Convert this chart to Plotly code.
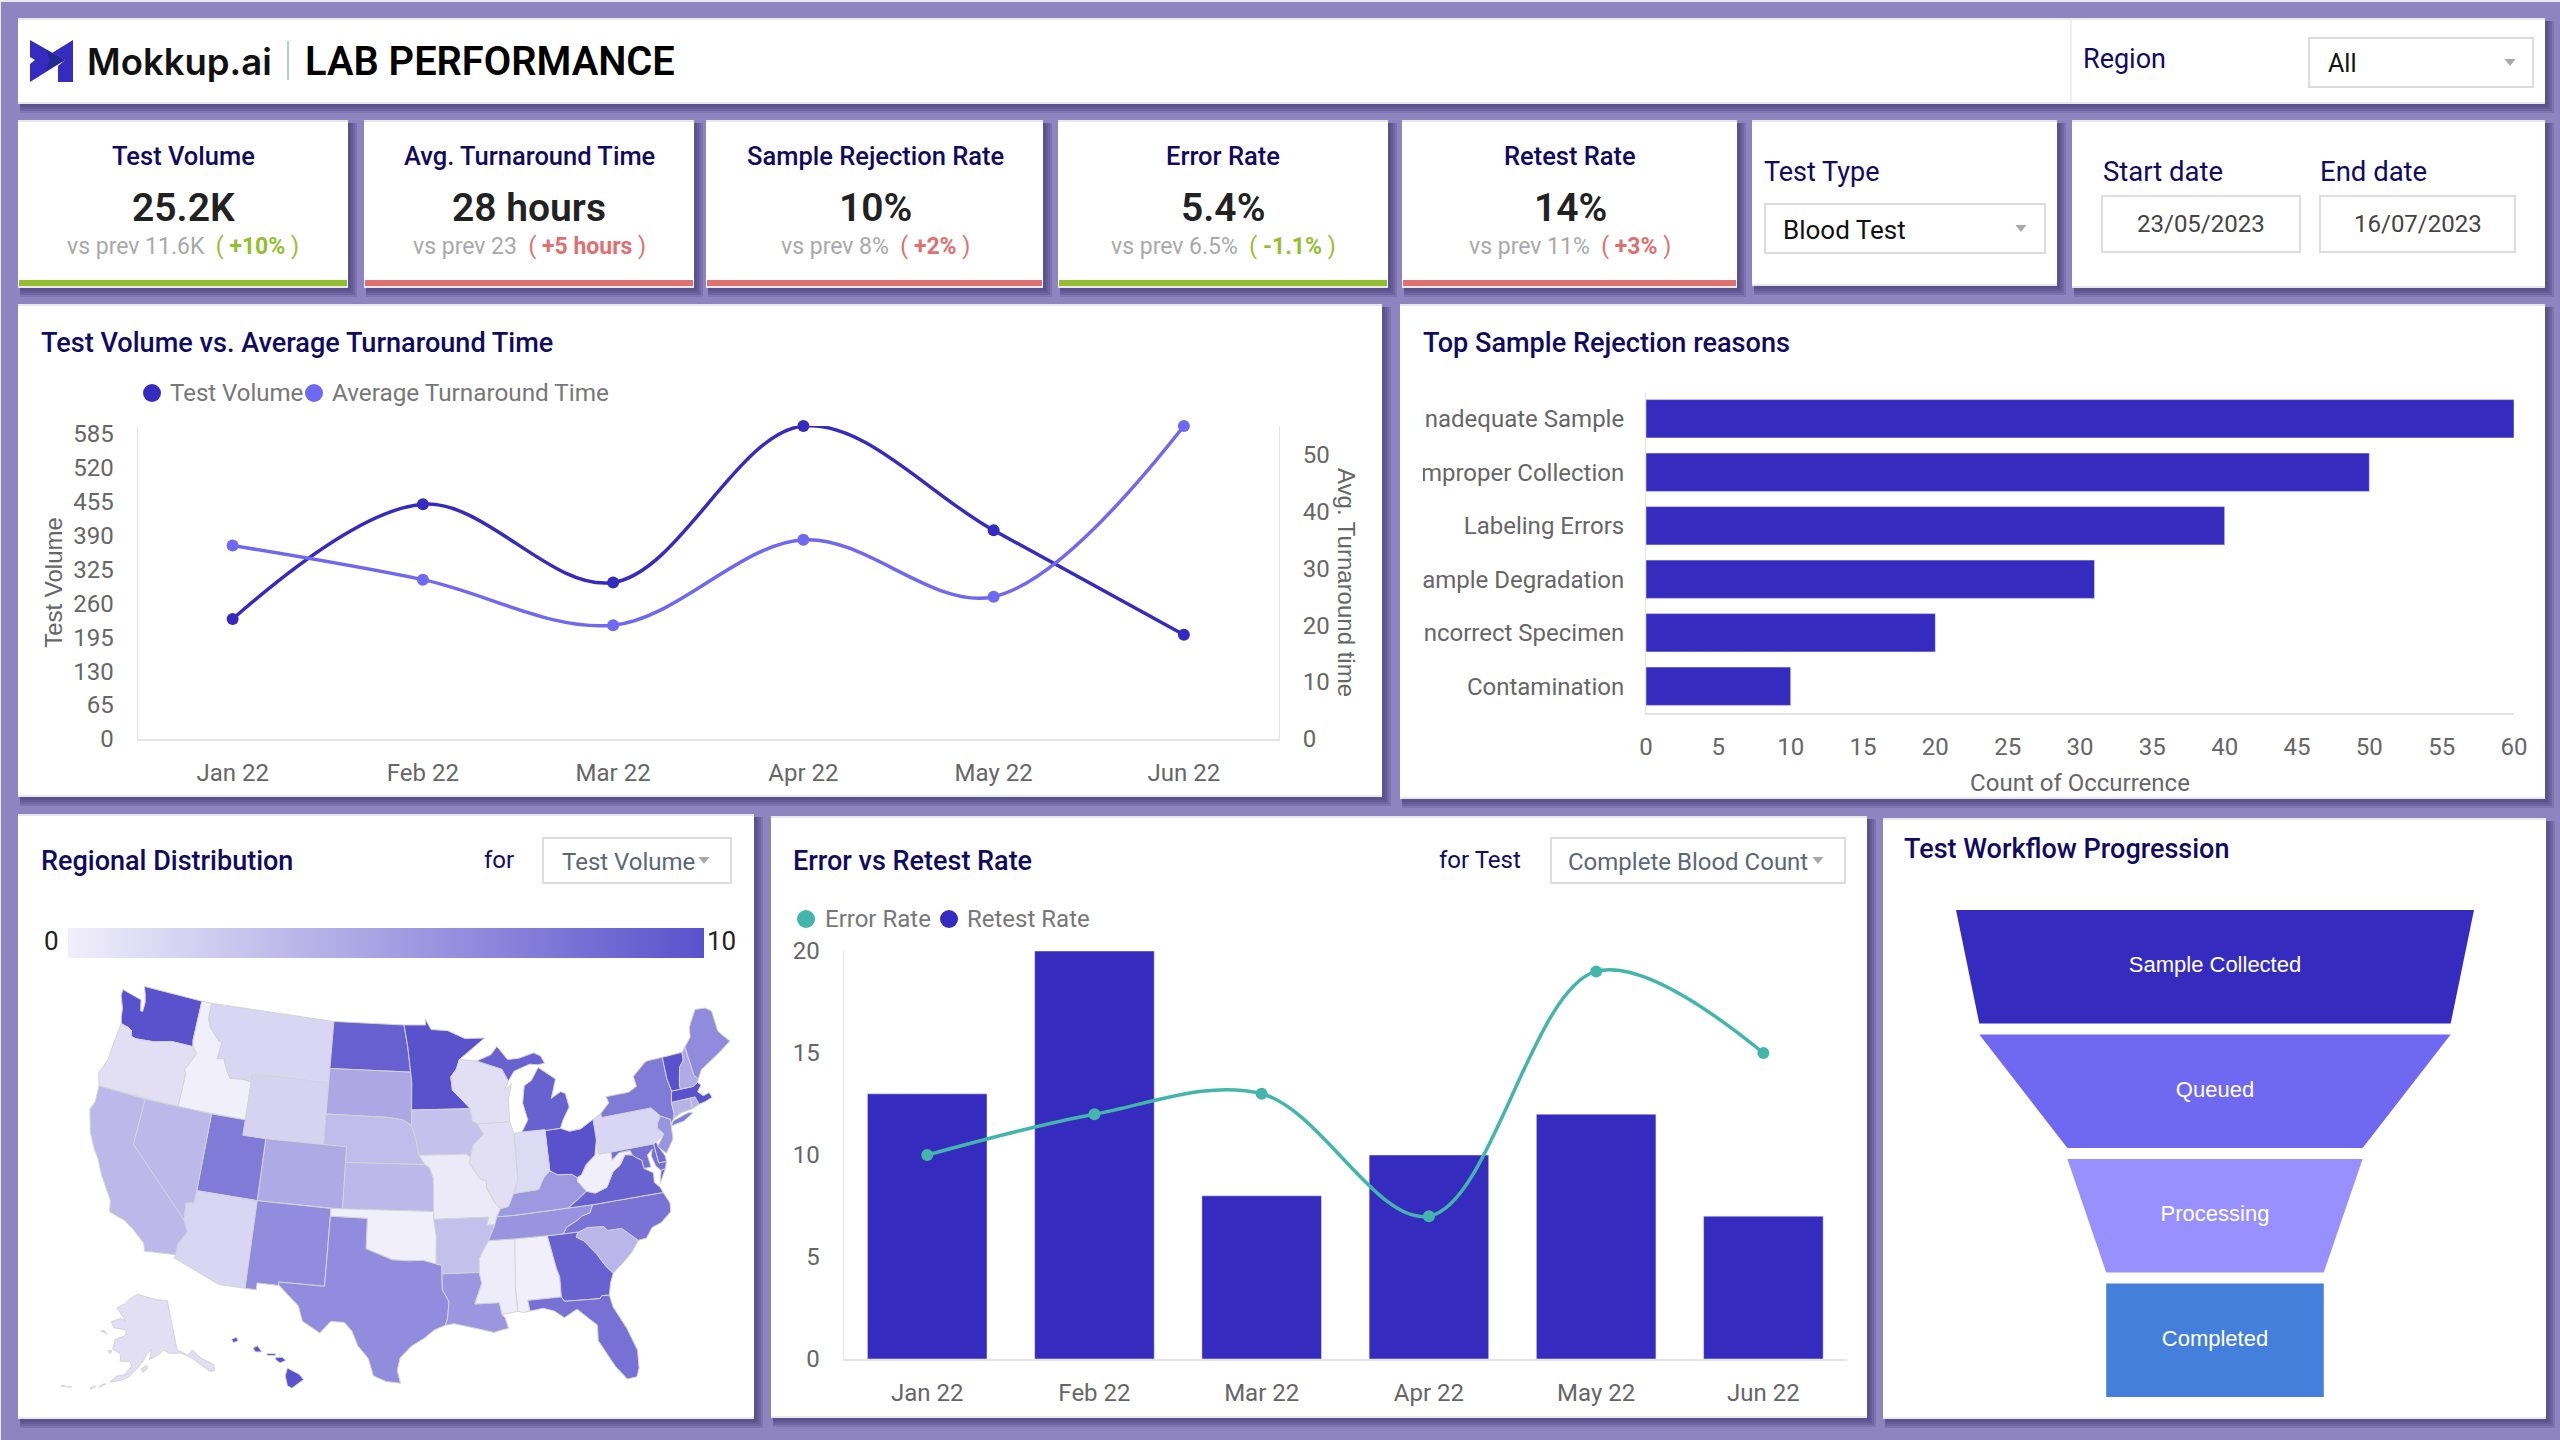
import math
import plotly.graph_objects as go

W, H = 2560, 1440

# ---------- data ----------
MONTHS = ["Jan 22", "Feb 22", "Mar 22", "Apr 22", "May 22", "Jun 22"]
TEST_VOLUME = [230, 450, 300, 600, 400, 200]
AVG_TURNAROUND = [34, 28, 20, 35, 25, 55]
VOLUME_TICKS = [0, 65, 130, 195, 260, 325, 390, 455, 520, 585]
TURNAROUND_TICKS = [0, 10, 20, 30, 40, 50]

REJECT_REASONS = ["Inadequate Sample", "Improper Collection", "Labeling Errors",
                  "Sample Degradation", "Incorrect Specimen", "Contamination"]
REJECT_COUNTS = [60, 50, 40, 31, 20, 10]
COUNT_TICKS = list(range(0, 61, 5))

ERROR_RATE = [10, 12, 13, 7, 19, 15]
RETEST_RATE = [13, 20, 8, 10, 12, 7]
RATE_TICKS = [0, 5, 10, 15, 20]

FUNNEL_STAGES = ["Sample Collected", "Queued", "Processing", "Completed"]
FUNNEL_VALUES = [100, 91, 57, 42]
FUNNEL_COLORS = ["#352cbf", "#6f68f0", "#9990ff", "#437fdb"]

KPI_NAMES = ["Test Volume", "Avg. Turnaround Time", "Sample Rejection Rate", "Error Rate", "Retest Rate"]
KPI_VALUES = ["25.2K", "28 hours", "10%", "5.4%", "14%"]
KPI_PREV = ["vs prev 11.6K", "vs prev 23", "vs prev 8%", "vs prev 6.5%", "vs prev 11%"]
KPI_DELTA = ["+10%", "+5 hours", "+2%", "-1.1%", "+3%"]
KPI_GOOD = [True, False, False, True, False]

STATE_VALUES = {
    "WA": 10, "OR": 1, "ID": 0, "MT": 1.6, "WY": 1.8, "ND": 9.1, "SD": 4.5, "NE": 3.2, "CO": 4.4, "KS": 3.5,
    "UT": 7.4, "NV": 3.5, "CA": 3.5, "AZ": 1.6, "NM": 6.3, "OK": 0, "TX": 6.3, "MN": 10, "IA": 2.9, "MO": 0.3,
    "AR": 3, "LA": 5.7, "MS": 0.2, "AL": 0, "WI": 1, "IL": 1, "IN": 1.3, "MI": 9, "OH": 10, "KY": 5.5,
    "TN": 5.8, "GA": 9, "FL": 8, "SC": 3.6, "NC": 7.9, "VA": 9, "WV": 0, "PA": 1.6, "NY": 7.4, "VT": 10,
    "NH": 4.3, "ME": 6.4, "MA": 10, "CT": 3.8, "RI": 3.8, "NJ": 5.8, "DE": 8.5, "MD": 8, "AK": 1, "HI": 10,
}

# Simplified state boundaries, geographic (lon, lat); the plotly geo base map needs network access.
STATE_OUTLINES = {
    "WA": [[(-124.7,48.4),(-123.2,48.15),(-122.75,48.1),(-122.5,47.4),(-122.3,47.4),(-122.3,48.0),(-122.5,48.5),(-122.8,49.0),(-117.03,49.0),(-117.04,46.4),(-116.92,45.99),(-118.98,46.0),(-119.3,45.93),(-120.5,45.7),(-121.2,45.65),(-122.2,45.58),(-122.7,45.65),(-122.8,46.0),(-123.2,46.15),(-123.9,46.25),(-124.1,46.7),(-124.2,47.2),(-124.7,48.0)]],
    "OR": [[(-123.9,46.25),(-123.2,46.15),(-122.8,46.0),(-122.7,45.65),(-122.2,45.58),(-121.2,45.65),(-120.5,45.7),(-119.3,45.93),(-118.98,46.0),(-116.92,45.99),(-116.46,45.6),(-116.85,44.95),(-117.2,44.45),(-117.03,44.2),(-117.03,42.0),(-124.2,42.0),(-124.55,42.8),(-124.1,43.8),(-124.05,45.0)]],
    "ID": [[(-117.03,49.0),(-116.05,49.0),(-116.05,48.0),(-115.7,47.45),(-114.7,46.7),(-114.35,46.65),(-114.5,45.55),(-113.9,45.65),(-113.45,44.95),(-113.0,44.45),(-112.0,44.55),(-111.05,44.47),(-111.05,42.0),(-117.03,42.0),(-117.03,44.2),(-117.2,44.45),(-116.85,44.95),(-116.46,45.6),(-116.92,45.99),(-117.04,46.4)]],
    "MT": [[(-116.05,49.0),(-104.05,49.0),(-104.05,45.0),(-111.05,45.0),(-111.05,44.47),(-112.0,44.55),(-113.0,44.45),(-113.45,44.95),(-113.9,45.65),(-114.5,45.55),(-114.35,46.65),(-114.7,46.7),(-115.7,47.45),(-116.05,48.0)]],
    "WY": [[(-111.05,45),(-104.05,45),(-104.05,41),(-111.05,41)]],
    "ND": [[(-104.05,49),(-97.23,49),(-96.85,47.6),(-96.56,45.94),(-104.05,45.94)]],
    "SD": [[(-104.05,45.94),(-96.56,45.94),(-96.45,45.3),(-96.45,43.5),(-96.45,42.5),(-97.2,42.85),(-98.5,43.0),(-104.05,43)]],
    "NE": [[(-104.05,43),(-98.5,43),(-97.2,42.85),(-96.45,42.5),(-96.1,41.7),(-95.8,40.6),(-95.3,40.0),(-102.05,40),(-102.05,41),(-104.05,41)]],
    "CO": [[(-109.05,41),(-102.05,41),(-102.05,37),(-109.05,37)]],
    "KS": [[(-102.05,40),(-95.3,40),(-94.9,39.8),(-94.6,39.1),(-94.62,37),(-102.05,37)]],
    "UT": [[(-114.05,42),(-111.05,42),(-111.05,41),(-109.05,41),(-109.05,37),(-114.05,37)]],
    "NV": [[(-120,42),(-114.05,42),(-114.05,36.2),(-114.7,36.1),(-114.6,35),(-120,39)]],
    "CA": [[(-124.2,42),(-120,42),(-120,39),(-114.6,35),(-114.15,34.3),(-114.7,33.4),(-114.72,32.72),(-117.12,32.53),(-117.3,33.0),(-118.4,33.75),(-119.2,34.15),(-120.5,34.45),(-120.65,35.15),(-121.9,36.6),(-122.5,37.5),(-123.0,38.0),(-123.75,39.0),(-124.35,40.4),(-124.1,41.0)]],
    "AZ": [[(-114.05,37),(-109.05,37),(-109.05,31.33),(-111.07,31.33),(-114.8,32.5),(-114.72,32.72),(-114.7,33.4),(-114.15,34.3),(-114.6,35),(-114.7,36.1),(-114.05,36.2)]],
    "NM": [[(-109.05,37),(-103,37),(-103.05,32),(-106.6,32),(-106.5,31.78),(-108.2,31.78),(-108.2,31.33),(-109.05,31.33)]],
    "OK": [[(-103,37),(-94.62,37),(-94.43,35.4),(-94.48,33.64),(-95.5,33.88),(-96.6,33.85),(-97.9,33.9),(-99.2,34.3),(-100,34.56),(-100,36.5),(-103,36.5)]],
    "TX": [[(-103,36.5),(-100,36.5),(-100,34.56),(-99.2,34.3),(-97.9,33.9),(-96.6,33.85),(-95.5,33.88),(-94.48,33.64),(-94.04,33.55),(-94.04,32),(-93.55,31.2),(-93.7,30.1),(-93.85,29.7),(-94.7,29.4),(-95.4,28.9),(-96.4,28.35),(-97.2,27.6),(-97.4,26.8),(-97.15,25.95),(-98.2,26.05),(-99.1,26.4),(-99.5,27.5),(-100.3,28.3),(-100.8,29.25),(-101.4,29.77),(-102.4,29.77),(-103.15,28.98),(-104.5,29.65),(-104.9,30.6),(-106.5,31.78),(-106.6,32),(-103.05,32)]],
    "MN": [[(-97.23,49),(-95.15,49),(-95.15,49.38),(-94.6,48.7),(-93,48.6),(-91.4,48.05),(-89.5,48.0),(-92.0,46.7),(-92.3,46.1),(-92.85,45.6),(-92.75,44.75),(-91.2,43.5),(-96.45,43.5),(-96.45,45.3),(-96.56,45.94),(-96.85,47.6)]],
    "IA": [[(-96.45,43.5),(-91.2,43.5),(-91.1,42.7),(-90.65,42.5),(-90.15,41.8),(-91.1,41.2),(-91.4,40.4),(-91.75,40.6),(-95.8,40.6),(-96.1,41.7),(-96.45,42.5)]],
    "MO": [[(-95.8,40.6),(-91.75,40.6),(-91.4,40.4),(-91.5,40.0),(-90.7,39.0),(-90.15,38.8),(-90.2,38.4),(-89.5,37.3),(-89.15,37.0),(-89.5,36.5),(-89.7,36.0),(-90.37,36.0),(-90.15,36.5),(-94.62,36.5),(-94.62,37),(-94.6,39.1),(-94.9,39.8),(-95.3,40)]],
    "AR": [[(-94.62,36.5),(-90.15,36.5),(-90.37,36.0),(-89.7,36.0),(-90.3,35.0),(-90.6,34.6),(-91.1,33.9),(-91.15,33.0),(-94.04,33.0),(-94.04,33.55),(-94.48,33.64),(-94.43,35.4)]],
    "LA": [[(-94.04,33),(-91.15,33),(-91.0,32.3),(-91.6,31),(-89.75,31),(-89.6,30.2),(-89.4,30),(-89.2,29.3),(-89.6,29.25),(-90.3,29.1),(-91.3,29.35),(-92.2,29.55),(-93.2,29.78),(-93.85,29.7),(-93.7,30.1),(-93.55,31.2),(-94.04,32)]],
    "MS": [[(-91.15,33),(-91.1,33.9),(-90.6,34.6),(-90.3,35),(-88.2,35),(-88.1,34.9),(-88.45,31.9),(-88.4,30.35),(-89.4,30.25),(-89.6,30.2),(-89.75,31),(-91.6,31),(-91.0,32.3)]],
    "AL": [[(-88.2,35),(-85.6,35),(-85.18,32.87),(-85.0,32.3),(-85.05,31.0),(-87.6,31.0),(-87.5,30.3),(-88.0,30.25),(-88.4,30.35),(-88.45,31.9)]],
    "GA": [[(-85.6,35),(-83.1,35),(-83.35,34.7),(-82.8,34.4),(-81.9,33.4),(-81.4,32.6),(-80.9,32.05),(-81.2,31.5),(-81.45,30.7),(-82.0,30.75),(-82.2,30.57),(-84.86,30.7),(-85.05,31),(-85,32.3),(-85.18,32.87)]],
    "FL": [[(-87.6,31),(-85.05,31),(-84.86,30.7),(-82.2,30.57),(-82,30.75),(-81.45,30.7),(-81.3,29.9),(-80.55,28.4),(-80.05,26.9),(-80.15,25.75),(-80.4,25.2),(-81.1,25.15),(-81.8,26.1),(-82.2,26.9),(-82.75,27.9),(-82.65,28.9),(-83.4,29.6),(-84.0,30.1),(-85.0,29.65),(-85.7,30.15),(-86.5,30.4),(-87.5,30.3)]],
    "SC": [[(-83.1,35),(-82.3,35.2),(-81.05,35.1),(-80.8,34.82),(-79.68,34.8),(-78.55,33.86),(-79.2,33.2),(-79.9,32.7),(-80.9,32.05),(-81.4,32.6),(-81.9,33.4),(-82.8,34.4),(-83.35,34.7)]],
    "NC": [[(-84.32,35),(-83.1,35),(-82.3,35.2),(-81.05,35.1),(-80.8,34.82),(-79.68,34.8),(-78.55,33.86),(-77.9,33.9),(-77.3,34.5),(-76.5,34.7),(-75.6,35.25),(-75.5,35.8),(-75.87,36.55),(-81.68,36.59),(-82.0,36.1),(-82.6,36.0),(-83.2,35.7),(-84.0,35.4)]],
    "TN": [[(-90.3,35),(-88.2,35),(-85.6,35),(-84.32,35),(-84.0,35.4),(-83.2,35.7),(-82.6,36.0),(-82.0,36.1),(-81.68,36.59),(-83.68,36.6),(-88.05,36.5),(-89.5,36.5),(-89.7,36.0)]],
    "KY": [[(-89.5,36.5),(-88.05,36.5),(-83.68,36.6),(-82.9,37.0),(-82.0,37.5),(-82.6,38.2),(-82.6,38.45),(-83.0,38.7),(-84.2,38.8),(-84.8,39.1),(-85.4,38.7),(-85.9,38.0),(-86.8,37.95),(-88.0,37.9),(-88.5,37.1),(-89.15,37)]],
    "VA": [[(-83.68,36.6),(-81.68,36.59),(-75.87,36.55),(-76.0,36.9),(-76.4,37.3),(-76.3,37.9),(-77.0,38.3),(-77.05,38.85),(-77.5,39.1),(-77.75,39.3),(-78.35,39.4),(-78.9,38.8),(-79.6,38.45),(-80.3,37.55),(-81.3,37.3),(-82,37.5),(-82.9,37)],
           [(-75.25,38.03),(-75.65,37.95),(-75.95,37.15),(-75.65,37.5)]],
    "WV": [[(-82,37.5),(-81.3,37.3),(-80.3,37.55),(-79.6,38.45),(-78.9,38.8),(-78.35,39.4),(-77.75,39.3),(-77.85,39.6),(-78.4,39.6),(-78.8,39.6),(-79.48,39.2),(-79.48,39.72),(-80.52,39.72),(-80.52,40.64),(-80.85,39.7),(-81.7,39.2),(-82.2,38.6),(-82.6,38.45),(-82.6,38.2)]],
    "MD": [[(-79.48,39.72),(-75.79,39.72),(-75.7,38.46),(-75.05,38.45),(-75.25,38.03),(-75.65,37.95),(-76.0,38.3),(-76.2,39.0),(-76.0,39.4),(-76.5,39.1),(-76.4,38.3),(-77,38.3),(-77.05,38.85),(-77.5,39.1),(-77.75,39.3),(-77.85,39.6),(-78.4,39.6),(-78.8,39.6),(-79.48,39.2)]],
    "DE": [[(-75.79,39.72),(-75.55,39.8),(-75.4,39.4),(-75.05,38.8),(-75.05,38.45),(-75.7,38.46)]],
    "PA": [[(-80.52,41.98),(-79.76,42.27),(-79.76,42),(-75.35,42),(-74.7,41.36),(-75.1,40.95),(-75.2,40.65),(-74.75,40.2),(-75.4,39.85),(-75.55,39.8),(-75.79,39.72),(-80.52,39.72)]],
    "NJ": [[(-74.7,41.36),(-73.9,41.0),(-74.0,40.5),(-74.1,39.75),(-74.9,38.95),(-75.5,39.5),(-74.75,40.2),(-75.2,40.65),(-75.1,40.95)]],
    "NY": [[(-79.76,42),(-79.76,42.27),(-78.9,42.85),(-79.05,43.27),(-77,43.28),(-76.2,43.55),(-76.3,44.2),(-75,44.95),(-74.7,45),(-73.35,45),(-73.4,43.6),(-73.25,42.75),(-73.5,42.05),(-73.5,41.3),(-73.65,41.0),(-74.0,40.7),(-73.9,41.0),(-74.7,41.36),(-75.35,42)],
           [(-74.0,40.58),(-73.7,40.88),(-72.3,41.15),(-71.9,41.07),(-72.8,40.7)]],
    "CT": [[(-73.5,42.05),(-71.8,42.02),(-71.85,41.32),(-72.9,41.25),(-73.65,41.0),(-73.5,41.3)]],
    "RI": [[(-71.8,42.02),(-71.38,42.02),(-71.2,41.5),(-71.85,41.32)]],
    "MA": [[(-73.5,42.05),(-73.25,42.75),(-72.45,42.73),(-71.3,42.7),(-70.85,42.88),(-70.6,42.65),(-71.05,42.3),(-70.65,41.95),(-70.1,42.05),(-69.95,41.7),(-70.65,41.55),(-71.2,41.5),(-71.38,42.02),(-71.8,42.02)]],
    "VT": [[(-73.35,45),(-71.5,45),(-71.55,44.5),(-72.05,44.1),(-72.45,43.0),(-72.45,42.73),(-73.25,42.75),(-73.4,43.6)]],
    "NH": [[(-71.5,45),(-71.1,45.3),(-70.98,43.4),(-70.7,43.07),(-70.85,42.88),(-71.3,42.7),(-72.45,42.73),(-72.45,43.0),(-72.05,44.1),(-71.55,44.5)]],
    "ME": [[(-71.1,45.3),(-70.4,45.8),(-70.25,46.4),(-70.0,46.7),(-69.25,47.45),(-68.3,47.35),(-67.8,47.05),(-67.8,45.7),(-67.45,45.3),(-67.0,44.85),(-68.2,44.35),(-69.1,44.0),(-70.2,43.6),(-70.7,43.07),(-70.98,43.4)]],
    "OH": [[(-84.8,39.1),(-84.2,38.8),(-83,38.7),(-82.6,38.45),(-82.2,38.6),(-81.7,39.2),(-80.85,39.7),(-80.52,40.64),(-80.52,41.98),(-81.7,41.5),(-82.7,41.45),(-83.45,41.72),(-84.8,41.7)]],
    "IN": [[(-87.53,41.71),(-87.2,41.76),(-86.82,41.76),(-84.8,41.76),(-84.8,39.1),(-85.4,38.7),(-85.9,38),(-86.8,37.95),(-88,37.9),(-87.55,38.7),(-87.53,39.35)]],
    "IL": [[(-90.65,42.5),(-87.8,42.5),(-87.53,41.71),(-87.53,39.35),(-87.55,38.7),(-88,37.9),(-88.5,37.1),(-89.15,37),(-89.5,37.3),(-90.2,38.4),(-90.15,38.8),(-90.7,39),(-91.5,40),(-91.4,40.4),(-91.1,41.2),(-90.15,41.8)]],
    "WI": [[(-92,46.7),(-90.4,46.55),(-88.1,45.9),(-87.6,45.1),(-88.0,44.55),(-87.35,44.9),(-87.75,43.9),(-87.8,42.5),(-90.65,42.5),(-91.1,42.7),(-91.2,43.5),(-92.75,44.75),(-92.85,45.6),(-92.3,46.1)]],
    "MI": [[(-86.82,41.76),(-84.8,41.76),(-84.8,41.7),(-83.45,41.72),(-83.1,42.25),(-82.42,43.0),(-82.6,43.9),(-83.0,44.05),(-83.9,43.7),(-83.3,44.9),(-84.75,45.78),(-85.5,45.0),(-86.2,44.7),(-86.5,43.6),(-86.2,42.5)],
           [(-90.4,46.55),(-88.1,45.9),(-87.6,45.1),(-87.0,45.7),(-85.5,46.05),(-84.75,45.95),(-84.1,46.0),(-84.4,46.5),(-85.0,46.75),(-86.5,46.5),(-87.5,46.5),(-88.4,47.4),(-89.0,46.9)]],
    "AK": [[(-141,69.65),(-141,60.3),(-139.5,59.9),(-137.5,58.9),(-135.5,59.7),(-134.7,58.9),(-133.5,57.9),(-130.0,55.9),(-130.5,54.8),(-132,55),(-134,56.5),(-136,58),(-138,59),(-140,59.7),(-144,60),(-146,60.8),(-148,60),(-151.5,59.2),(-150.5,61),(-152,60.5),(-153.8,59),(-156,57.5),(-158.5,56),(-161,55.2),(-163.5,54.8),(-164.5,54.6),(-162.5,55.9),(-160,56.3),(-157.8,58),(-158.5,58.8),(-162,58.7),(-162,60),(-165.3,60.7),(-165,62.5),(-161,63.5),(-161,64.5),(-166.5,64.6),(-168,65.6),(-164,66.5),(-161.8,66.2),(-163.7,67.1),(-166.7,68.3),(-163,69.3),(-161,70.3),(-156.7,71.3),(-152,70.8),(-147,70.2)],
           [(-154.5,57.5),(-152.5,58.2),(-152.3,57.6),(-153.8,56.9)],
           [(-166.8,53.9),(-165.5,54.2),(-167.5,53.3)],
           [(-170,52.9),(-168.5,53.4),(-169.8,52.6)],
           [(-176.5,51.9),(-175.5,52.1),(-177,51.7)],
           [(-178.6,51.7),(-177.3,51.9),(-178.3,51.5)],
           [(-167,60.2),(-165.5,60.4),(-166,59.8)],
           [(-171.5,63.5),(-168.8,63.2),(-170,63.7)]],
    "HI": [[(-159.75,22.1),(-159.4,22.25),(-159.3,22.0),(-159.6,21.9)],
           [(-158.25,21.55),(-157.95,21.7),(-157.65,21.3),(-158.1,21.3)],
           [(-157.3,21.2),(-156.7,21.18),(-156.75,21.05),(-157.3,21.08)],
           [(-156.7,20.95),(-156.25,20.95),(-156.0,20.75),(-156.4,20.58),(-156.7,20.8)],
           [(-155.9,20.25),(-155.6,20.1),(-155.1,19.85),(-154.8,19.5),(-155.6,18.95),(-155.9,19.1),(-156.05,19.75)]],
}

# ---------- styling ----------
BG = "#8e84c0"
NAVY = "#100a60"
DARK = "#352cbf"
LIGHT = "#6f68f0"
TEAL = "#44b5ab"
TICK = "#666666"
AXIS = "#e4e4e4"
GREEN = "#92bf30"
RED = "#df7070"
RAMP_LOW = (241, 239, 250)
RAMP_HIGH = (89, 82, 204)
FONT = "Roboto"


def px(x):
    return x / W


def py(y):
    return 1 - y / H


def dom_x(a, b):
    return [a / W, b / W]


def dom_y(top, bottom):
    return [1 - bottom / H, 1 - top / H]


shapes, notes = [], []


def rect(x0, y0, x1, y1, fill, line=None, lw=0, layer="below"):
    shapes.append(dict(type="rect", xref="paper", yref="paper", x0=px(x0), x1=px(x1), y0=py(y0), y1=py(y1),
                       fillcolor=fill, line=dict(color=line or "rgba(0,0,0,0)", width=lw), layer=layer))


def poly(points, fill, layer="below"):
    path = "M" + "L".join(f"{px(a):.5f},{py(b):.5f}" for a, b in points) + "Z"
    shapes.append(dict(type="path", xref="paper", yref="paper", path=path, fillcolor=fill,
                       line=dict(width=0), layer=layer))


def circle(cx, cy, d, fill):
    shapes.append(dict(type="circle", xref="paper", yref="paper", x0=px(cx - d / 2), x1=px(cx + d / 2),
                       y0=py(cy + d / 2), y1=py(cy - d / 2), fillcolor=fill, line=dict(width=0), layer="above"))


def text(x, y, s, size=24, color=TICK, anchor="left", weight=400, family=FONT, angle=0):
    notes.append(dict(xref="paper", yref="paper", x=px(x), y=py(y), text=s, showarrow=False, xanchor=anchor,
                      yanchor="middle", align=anchor, borderpad=0, textangle=angle,
                      font=dict(family=family, size=size, color=color, weight=weight)))


def card(x0, y0, x1, y1):
    for k in (9, 7, 5, 3):
        rect(x0 + 2, y0 + 3, x1 + k, y1 + k, "rgba(45,35,95,0.16)")
    rect(x0, y0, x1, y1, "white")
    rect(x0, y0, x1, y0 + 2, "#e8e8e8")
    rect(x0, y1 - 2, x1, y1, "#e8e8e8")


def caret(cx, cy, color="#a8a8a8", w=11, h=7):
    poly([(cx - w / 2, cy - h / 2), (cx + w / 2, cy - h / 2), (cx, cy + h / 2)], color, layer="above")


def dropdown(x0, y0, x1, y1, label, tx, cx, color, size=24):
    rect(x0, y0, x1, y1, "white", "#dcdcdc", 2)
    text(tx, (y0 + y1) / 2 + 1, label, size, color)
    caret(cx, (y0 + y1) / 2, "#a9a9a9")


def ramp(v):
    t = max(0, min(1, v / 10))
    r = [round(a + (b - a) * t) for a, b in zip(RAMP_LOW, RAMP_HIGH)]
    return f"rgb({r[0]},{r[1]},{r[2]})"


def conic(lon, lat, p1, p2, rot, clon, clat, scale, cx, cy):
    s1, s2 = math.sin(math.radians(p1)), math.sin(math.radians(p2))
    n = (s1 + s2) / 2
    c = math.cos(math.radians(p1)) ** 2 + 2 * n * s1

    def raw(a, b):
        rho = math.sqrt(c - 2 * n * math.sin(math.radians(b))) / n
        th = n * math.radians(a)
        return rho * math.sin(th), -rho * math.cos(th)

    x, y = raw(lon + rot, lat)
    x0, y0 = raw(clon, clat)
    return cx + scale * (x - x0), cy - scale * (y - y0)


MAP_SCALE, MAP_CX, MAP_CY = 888, 409.5, 1185


def albers_usa(state, lon, lat):
    if state == "AK":
        return conic(lon, lat, 55, 65, 154, -2, 58.5, MAP_SCALE * 0.35, MAP_CX - 0.307 * MAP_SCALE, MAP_CY + 0.201 * MAP_SCALE)
    if state == "HI":
        return conic(lon, lat, 8, 18, 157, -3, 19.9, MAP_SCALE, MAP_CX - 0.205 * MAP_SCALE, MAP_CY + 0.212 * MAP_SCALE)
    return conic(lon, lat, 29.5, 45.5, 96, -0.6, 38.7, MAP_SCALE, MAP_CX, MAP_CY)


# ---------- page furniture ----------
rect(0, 0, W, 2, "#e9e9e9")
rect(0, 0, 1, H, "#e9e9e9")

card(18, 18, 2545, 104)
rect(2070, 20, 2072, 102, "#efefef")
KPI_BOXES = [(18, 348), (364, 694), (706, 1043), (1058, 1388), (1402, 1737)]
KPI_CENTERS = [183, 529, 875, 1223, 1570]
for (a, b), c, name, val, prev, delta, good in zip(KPI_BOXES, KPI_CENTERS, KPI_NAMES, KPI_VALUES, KPI_PREV, KPI_DELTA, KPI_GOOD):
    card(a, 120, b, 288)
    col = GREEN if good else RED
    rect(a + 1, 280, b - 1, 286, col)
    text(c, 156, name, 25.5, NAVY, "center", 500)
    text(c, 208, val, 39, "#222222", "center", 600)
    text(c, 247, f'<span style="color:#a9a9a9">{prev}</span>  <span style="color:{col}">( <b>{delta}</b> )</span>', 23, "#a9a9a9", "center")

card(1752, 120, 2057, 286)
card(2072, 120, 2545, 288)
card(18, 304, 1382, 797)
card(1400, 304, 2545, 799)
card(18, 814, 754, 1419)
card(771, 816, 1867, 1418)
card(1883, 818, 2546, 1419)

# header
poly([(30, 40), (65, 60), (30, 82), (30, 64), (35, 60), (30, 57)], DARK, "above")
poly([(73, 40), (73, 82), (58, 82), (58, 66), (65, 60), (52, 53)], DARK, "above")
poly([(46, 50), (65, 60), (46, 71), (50, 60)], "#22288f", "above")
text(86, 62, "Mokkup.ai", 36.5, "#111111", "left", 600, "Inter")
rect(287.5, 41, 288.5, 80, "#5f9ea0")
text(304, 62, "LAB PERFORMANCE", 39.8, "#000000", "left", 600)

text(2082, 59, "Region", 27, NAVY)
dropdown(2309, 38, 2533, 87, "All", 2327, 2510, "#111111", 25)
text(1763, 172, "Test Type", 27, NAVY)
dropdown(1765, 204, 2045, 253, "Blood Test", 1782, 2021, "#111111", 26)
text(2102, 171, "Start date", 27.5, NAVY)
text(2319, 171, "End date", 27.5, NAVY)
rect(2102, 196, 2300, 252, "white", "#dddddd", 2)
rect(2320, 196, 2515, 252, "white", "#dddddd", 2)
text(2201, 224, "23/05/2023", 24, "#444444", "center")
text(2418, 224, "16/07/2023", 24, "#444444", "center")

# panel headers
text(40, 343, "Test Volume vs. Average Turnaround Time", 27.1, NAVY, "left", 500)
text(1422, 343, "Top Sample Rejection reasons", 27.1, NAVY, "left", 500)
text(40, 861, "Regional Distribution", 27, NAVY, "left", 500)
text(483, 860, "for", 24, NAVY)
dropdown(543, 838, 731, 883, "Test Volume", 561, 704, "#5b6777", 24)
text(792, 861, "Error vs Retest Rate", 27, NAVY, "left", 500)
text(1438, 860, "for Test", 24, NAVY)
dropdown(1551, 838, 1845, 883, "Complete Blood Count", 1567, 1818, "#5b6777", 24)
text(1903, 849, "Test Workflow Progression", 27, NAVY, "left", 500)

# hand-set legends
circle(152, 393, 18, DARK)
text(169, 393, "Test Volume", 24, "#777777")
circle(314, 393, 18, LIGHT)
text(331, 392.5, "Average Turnaround Time", 24.3, "#777777")
circle(806, 919, 18, TEAL)
text(824, 919, "Error Rate", 24, "#777777")
circle(949, 919, 18, DARK)
text(966, 919, "Retest Rate", 24, "#777777")

# right-hand axis title reads top to bottom in the reference
text(1347, 582, "Avg. Turnaround time", 24, TICK, "center", 400, "Liberation Sans", 90)

# colour ramp end labels
text(51, 941, "0", 26, "#222222", "center")
text(721, 941, "10", 26, "#222222", "center")

# clips the long category labels at the card's padding, as in the reference
rect(1401, 392, 1423, 700, "white", layer="above")

fig = go.Figure()
tick_font = dict(family=FONT, size=24, color=TICK)
ghost = "rgba(0,0,0,0)"

# ---------- line chart ----------
fig.add_trace(go.Scatter(x=MONTHS, y=TEST_VOLUME, name="Test Volume", xaxis="x", yaxis="y", mode="lines+markers",
                         line=dict(color=DARK, width=3.5, shape="spline", smoothing=1),
                         marker=dict(size=12, color=DARK), cliponaxis=False, showlegend=False))
fig.add_trace(go.Scatter(x=MONTHS, y=AVG_TURNAROUND, name="Average Turnaround Time", xaxis="x", yaxis="y2", mode="lines+markers",
                         line=dict(color=LIGHT, width=3.5, shape="spline", smoothing=1),
                         marker=dict(size=12, color=LIGHT), cliponaxis=False, showlegend=False))

# ---------- horizontal bars ----------
fig.add_trace(go.Bar(x=REJECT_COUNTS, y=REJECT_REASONS, orientation="h", xaxis="x2", yaxis="y3",
                     marker=dict(color=DARK), showlegend=False, name="Count of Occurrence"))

# ---------- map ----------
for state, parts in STATE_OUTLINES.items():
    xs, ys = [], []
    for part in parts:
        pts = [albers_usa(state, lon, lat) for lon, lat in part]
        pts.append(pts[0])
        xs += [p[0] for p in pts] + [None]
        ys += [p[1] for p in pts] + [None]
    fig.add_trace(go.Scatter(x=xs, y=ys, xaxis="x3", yaxis="y4", mode="lines", fill="toself",
                             fillcolor=ramp(STATE_VALUES[state]), line=dict(color="#d4d4d4", width=1),
                             name=state, text=f"{state}: {STATE_VALUES[state]}", hoverinfo="text", showlegend=False))
fig.add_trace(go.Scatter(x=[None, None], y=[None, None], xaxis="x3", yaxis="y4", mode="markers", showlegend=False,
                         marker=dict(color=[0, 10], coloraxis="coloraxis")))

# ---------- error vs retest ----------
fig.add_trace(go.Bar(x=MONTHS, y=RETEST_RATE, name="Retest Rate", xaxis="x4", yaxis="y5",
                     marker=dict(color=DARK), showlegend=False))
fig.add_trace(go.Scatter(x=MONTHS, y=ERROR_RATE, name="Error Rate", xaxis="x4", yaxis="y5", mode="lines+markers",
                         line=dict(color=TEAL, width=3.5, shape="spline", smoothing=1),
                         marker=dict(size=12, color=TEAL), cliponaxis=False, showlegend=False))

# ---------- funnel ----------
ROW_FILL = 0.912
for i, stage in enumerate(FUNNEL_STAGES):
    top = FUNNEL_VALUES[i]
    bottom = FUNNEL_VALUES[i + 1] if i + 1 < len(FUNNEL_VALUES) else top
    fig.add_trace(go.Scatter(x=[-top / 2, top / 2, bottom / 2, -bottom / 2, -top / 2],
                             y=[i, i, i + ROW_FILL, i + ROW_FILL, i], xaxis="x5", yaxis="y6", mode="lines",
                             fill="toself", fillcolor=FUNNEL_COLORS[i], line=dict(width=0), name=stage,
                             showlegend=False))
fig.add_trace(go.Scatter(x=[0] * 4, y=[i + ROW_FILL / 2 for i in range(4)], xaxis="x5", yaxis="y6", mode="text",
                         text=FUNNEL_STAGES, textposition="middle center", showlegend=False, hoverinfo="skip",
                         textfont=dict(family="Liberation Sans", size=22, color="white")))


def cat_axis(domain, anchor):
    return dict(domain=domain, anchor=anchor, type="category", categoryorder="array", categoryarray=MONTHS,
                range=[-0.5, 5.5], showgrid=False, zeroline=False, showline=True, linecolor=AXIS, linewidth=2,
                ticks="outside", ticklen=11, tickcolor=ghost, tickfont=tick_font, fixedrange=True)


def val_axis(domain, anchor, rng, ticks, **kw):
    d = dict(domain=domain, anchor=anchor, range=rng, tickmode="array", tickvals=ticks, showgrid=False,
             zeroline=False, showline=True, linecolor=AXIS, linewidth=1, ticks="outside", ticklen=18,
             tickcolor=ghost, tickfont=tick_font, fixedrange=True)
    d.update(kw)
    return d


TITLE_FONT = dict(family="Liberation Sans", size=24, color=TICK)
fig.update_layout(
    width=W, height=H, autosize=False, paper_bgcolor=BG, plot_bgcolor="rgba(0,0,0,0)",
    margin=dict(l=0, r=0, t=0, b=0, pad=0, autoexpand=False), showlegend=False, barmode="overlay",
    shapes=shapes, annotations=notes, hovermode="closest",
    font=dict(family=FONT),
    # line chart
    xaxis=cat_axis(dom_x(137.5, 1279), "y"),
    yaxis=val_axis(dom_y(426, 739), "x", [0, 600], VOLUME_TICKS,
                   title=dict(text="Test Volume", font=TITLE_FONT, standoff=3)),
    yaxis2=val_axis(dom_y(426, 739), "x", [0, 55], TURNAROUND_TICKS, overlaying="y", side="right"),
    # bars
    xaxis2=val_axis(dom_x(1646, 2514), "y3", [0, 60], COUNT_TICKS, linewidth=2, ticklen=11,
                    title=dict(text="Count of Occurrence", font=dict(family=FONT, size=24, color=TICK), standoff=14)),
    yaxis3=dict(domain=dom_y(392, 713), anchor="x2", type="category", categoryorder="array",
                categoryarray=REJECT_REASONS, range=[5.5, -0.5], showgrid=False, zeroline=False, showline=True,
                linecolor=AXIS, linewidth=1, ticks="outside", ticklen=16, tickcolor=ghost, tickfont=tick_font,
                fixedrange=True),
    # map, in projected page pixels
    xaxis3=dict(domain=dom_x(20, 750), anchor="y4", range=[20, 750], visible=False, fixedrange=True),
    yaxis4=dict(domain=dom_y(965, 1410), anchor="x3", range=[1410, 965], visible=False, fixedrange=True),
    coloraxis=dict(cmin=0, cmax=10, showscale=True,
                   colorscale=[[0, f"rgb{RAMP_LOW}"], [1, f"rgb{RAMP_HIGH}"]],
                   colorbar=dict(orientation="h", x=px(386), y=py(942.75), xanchor="center", yanchor="middle",
                                 lenmode="pixels", len=636, thicknessmode="pixels", thickness=29.5, xpad=0, ypad=0,
                                 outlinewidth=0, showticklabels=False, ticks="")),
    # error vs retest
    xaxis4=cat_axis(dom_x(843.6, 1847), "y5"),
    yaxis5=val_axis(dom_y(951, 1359), "x4", [0, 20], RATE_TICKS),
    # funnel
    xaxis5=dict(domain=dom_x(1956, 2474), anchor="y6", range=[-50, 50], visible=False, fixedrange=True),
    yaxis6=dict(domain=dom_y(910, 1397), anchor="x5", range=[3 + ROW_FILL, 0], visible=False, fixedrange=True),
    bargap=0.285,
)

fig.write_html("out.html", config=dict(displayModeBar=False),
               post_script="document.body.style.margin='0';document.body.style.overflow='hidden';")
